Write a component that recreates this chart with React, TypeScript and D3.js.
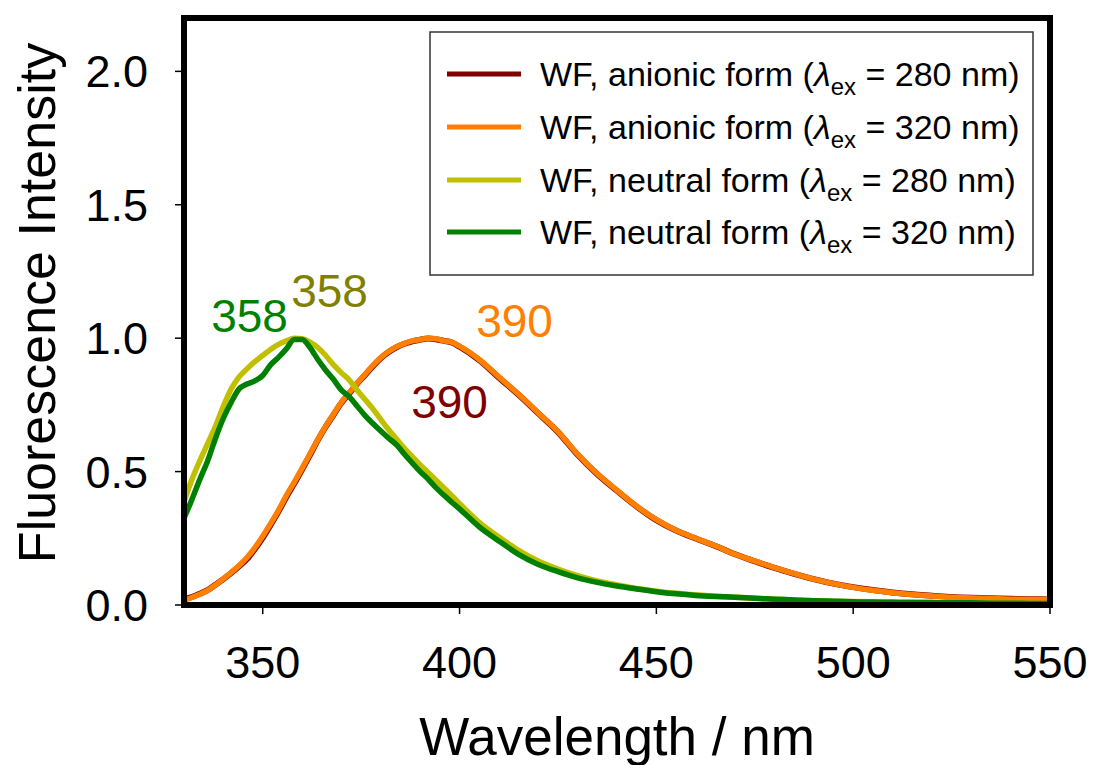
import React from "react";
import * as d3 from "d3";

const wavelengths = [
  330, 332, 334, 336, 338, 340, 342, 344, 346, 348, 350, 352, 354, 356, 358, 360,
  362, 364, 366, 368, 370, 372, 374, 376, 378, 380, 382, 384, 386, 388, 390, 392,
  394, 396, 398, 400, 405, 410, 415, 420, 425, 430, 435, 440, 445, 450, 455, 460,
  465, 470, 475, 480, 485, 490, 495, 500, 505, 510, 515, 520, 525, 530, 535, 540,
  545, 550,
];

const anionic280 = [
  0.022, 0.03, 0.042, 0.056, 0.076, 0.097, 0.12, 0.145, 0.172, 0.21, 0.252, 0.3, 0.35, 0.405, 0.455, 0.508,
  0.562, 0.618, 0.668, 0.713, 0.758, 0.793, 0.83, 0.862, 0.895, 0.925, 0.948, 0.966, 0.979, 0.988, 0.994, 0.999,
  0.996, 0.99, 0.984, 0.968, 0.918, 0.852, 0.788, 0.718, 0.648, 0.563, 0.49, 0.428, 0.369, 0.318, 0.279, 0.249,
  0.221, 0.19, 0.164, 0.139, 0.117, 0.097, 0.08, 0.067, 0.056, 0.047, 0.04, 0.035, 0.03, 0.027, 0.025, 0.023,
  0.022, 0.021,
];

const anionic320 = [
  0.018, 0.028, 0.04, 0.055, 0.075, 0.098, 0.122, 0.148, 0.178, 0.215, 0.258, 0.305, 0.355, 0.41, 0.46, 0.512,
  0.566, 0.62, 0.67, 0.715, 0.76, 0.796, 0.831, 0.865, 0.898, 0.927, 0.95, 0.968, 0.98, 0.99, 0.995, 1.0,
  0.998, 0.99, 0.985, 0.97, 0.92, 0.855, 0.79, 0.72, 0.65, 0.565, 0.492, 0.43, 0.37, 0.32, 0.28, 0.25,
  0.222, 0.19, 0.165, 0.14, 0.118, 0.097, 0.08, 0.066, 0.055, 0.046, 0.039, 0.034, 0.029, 0.026, 0.024, 0.022,
  0.021, 0.02,
];

const neutral280 = [
  0.387, 0.47, 0.54, 0.605, 0.67, 0.745, 0.81, 0.855, 0.885, 0.912, 0.935, 0.958, 0.977, 0.99, 1.0, 0.998,
  0.985, 0.965, 0.935, 0.9, 0.87, 0.843, 0.805, 0.77, 0.735, 0.695, 0.657, 0.622, 0.587, 0.556, 0.525, 0.497,
  0.468, 0.44, 0.41, 0.38, 0.31, 0.255, 0.205, 0.165, 0.135, 0.11, 0.09, 0.075, 0.062, 0.052, 0.044, 0.038,
  0.033, 0.029, 0.025, 0.022, 0.019, 0.016, 0.014, 0.013, 0.012, 0.011, 0.01, 0.009, 0.008, 0.008, 0.007, 0.007,
  0.006, 0.006,
];

const neutral320 = [
  0.325, 0.395, 0.47, 0.54, 0.625, 0.7, 0.76, 0.81, 0.828, 0.84, 0.86, 0.9, 0.928, 0.96, 0.995, 0.995,
  0.965, 0.92, 0.88, 0.845, 0.805, 0.78, 0.745, 0.71, 0.68, 0.652, 0.625, 0.6, 0.565, 0.532, 0.5, 0.472,
  0.44, 0.412, 0.385, 0.36, 0.293, 0.24, 0.19, 0.152, 0.125, 0.102, 0.085, 0.071, 0.06, 0.05, 0.042, 0.036,
  0.032, 0.029, 0.025, 0.022, 0.019, 0.016, 0.014, 0.012, 0.011, 0.01, 0.009, 0.009, 0.008, 0.008, 0.007, 0.007,
  0.006, 0.006,
];

const seriesNames = [
  "WF, anionic form (",
  "WF, anionic form (",
  "WF, neutral form (",
  "WF, neutral form (",
];
const seriesExc = ["280", "320", "280", "320"];
const seriesColors = ["#800000", "#FF8000", "#C0C000", "#008000"];
const seriesValues = [anionic280, anionic320, neutral280, neutral320];

const xTicks = [350, 400, 450, 500, 550];
const yTicks = [0, 0.5, 1.0, 1.5, 2.0];

const peakLabels = [
  { text: "358", wl: 358, v: 1.0, color: "#008000", dx: -83, dy: -6 },
  { text: "358", wl: 358, v: 1.0, color: "#808000", dx: -3, dy: -31 },
  { text: "390", wl: 390, v: 1.0, color: "#FF8000", dx: 56, dy: -1 },
  { text: "390", wl: 390, v: 1.0, color: "#800000", dx: -9, dy: 80 },
];

const FONT = "'Liberation Sans', Arial, Helvetica, sans-serif";

export default function App() {
  const W = 1093;
  const H = 765;
  const left = 184;
  const right = 1050;
  const top = 18;
  const bottom = 605;

  const x = d3.scaleLinear().domain([330, 550]).range([left, right]);
  const y = d3.scaleLinear().domain([0, 2.2]).range([bottom, top]);

  const line = d3
    .line<number>()
    .x((_, i) => x(wavelengths[i]))
    .y((d) => y(d))
    .curve(d3.curveMonotoneX);

  const legendX = 430;
  const legendY = 32;
  const legendW = 603;
  const legendH = 243;
  const rowY = [74, 127, 180, 232];

  return (
    <svg
      width={W}
      height={H}
      style={{ position: "absolute", left: 0, top: 0, background: "#fff" }}
      fontFamily={FONT}
    >
      <rect x={0} y={0} width={W} height={H} fill="#fff" />
      <defs>
        <clipPath id="plotclip">
          <rect x={left} y={top} width={right - left} height={bottom - top} />
        </clipPath>
      </defs>

      <g clipPath="url(#plotclip)">
        {seriesValues.map((vals, i) => (
          <path
            key={i}
            d={line(vals) || ""}
            fill="none"
            stroke={seriesColors[i]}
            strokeWidth={i === 0 ? 6 : 5.5}
            strokeLinejoin="round"
          />
        ))}
      </g>

      {/* frame */}
      <rect
        x={left}
        y={top}
        width={right - left}
        height={bottom - top}
        fill="none"
        stroke="#000"
        strokeWidth={6}
      />

      {/* x ticks */}
      {xTicks.map((t) => (
        <g key={t}>
          <line x1={x(t)} x2={x(t)} y1={bottom + 3} y2={bottom + 9} stroke="#000" strokeWidth={1.5} />
          <text x={x(t)} y={678} textAnchor="middle" fontSize={45} fill="#000">
            {t}
          </text>
        </g>
      ))}

      {/* y ticks */}
      {yTicks.map((t) => (
        <g key={t}>
          <line x1={left - 9} x2={left - 3} y1={y(t)} y2={y(t)} stroke="#000" strokeWidth={1.5} />
          <text x={148} y={y(t) + 16} textAnchor="end" fontSize={45} fill="#000">
            {t.toFixed(1)}
          </text>
        </g>
      ))}

      {/* axis titles */}
      <text x={(left + right) / 2} y={755} textAnchor="middle" fontSize={53} fill="#000">
        Wavelength / nm
      </text>
      <text
        transform={`translate(55, 303) rotate(-90)`}
        textAnchor="middle"
        fontSize={52}
        fill="#000"
      >
        Fluorescence Intensity
      </text>

      {/* peak labels */}
      {peakLabels.map((p, i) => (
        <text
          key={i}
          x={x(p.wl) + p.dx}
          y={y(p.v) + p.dy}
          fontSize={46}
          fill={p.color}
        >
          {p.text}
        </text>
      ))}

      {/* legend */}
      <rect
        x={legendX}
        y={legendY}
        width={legendW}
        height={legendH}
        fill="#fff"
        stroke="#333"
        strokeWidth={1.5}
      />
      {seriesNames.map((name, i) => (
        <g key={i}>
          <line
            x1={447}
            x2={521}
            y1={rowY[i]}
            y2={rowY[i]}
            stroke={seriesColors[i]}
            strokeWidth={5}
          />
          <text x={540} y={rowY[i] + 12} fontSize={34} fill="#000">
            {name}
            <tspan fontStyle="italic">λ</tspan>
            <tspan fontSize={24} dy={9}>ex</tspan>
            <tspan dy={-9}>{` = ${seriesExc[i]} nm)`}</tspan>
          </text>
        </g>
      ))}
    </svg>
  );
}
